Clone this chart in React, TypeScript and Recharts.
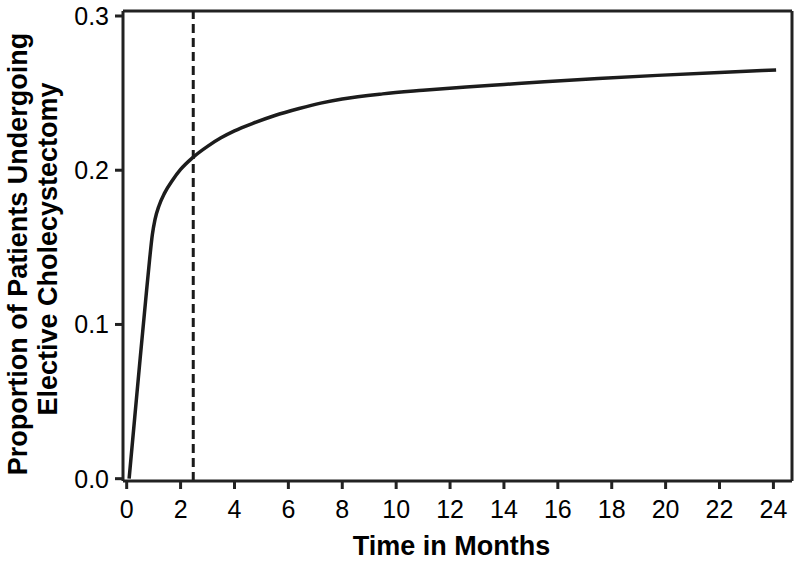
import React from 'react';
import { LineChart, Line, XAxis, YAxis, ReferenceLine } from 'recharts';

const months = [0.09, 0.3, 0.5, 0.7, 0.85, 0.95, 1.05, 1.2, 1.4, 1.7, 2.0, 2.47, 3.0, 3.5, 4.0, 4.7, 5.5, 6.4, 7.2, 8.0, 9.5, 11, 12.6, 14, 15.5, 17.5, 19.7, 22, 24.1];
const proportion = [0, 0.04, 0.078, 0.115, 0.142, 0.158, 0.168, 0.177, 0.185, 0.1935, 0.2005, 0.2085, 0.2155, 0.221, 0.2255, 0.2305, 0.2355, 0.24, 0.2435, 0.2462, 0.2495, 0.2518, 0.254, 0.2556, 0.2573, 0.2594, 0.2615, 0.2634, 0.265];
const xTicks = [0, 2, 4, 6, 8, 10, 12, 14, 16, 18, 20, 22, 24];
const yTicks = [0, 0.1, 0.2, 0.3];
const cutoffMonth = 2.47;
const xTitle = 'Time in Months';
const yTitleLines = ['Proportion of Patients Undergoing', 'Elective Cholecystectomy'];

const data = months.map((m, i) => ({ month: m, value: proportion[i] }));

const FONT = '"Liberation Sans", Arial, Helvetica, sans-serif';
const AXIS = '#222';
const X_DOMAIN: [number, number] = [-0.137, 24.69];
const Y_DOMAIN: [number, number] = [-0.0015, 0.30324];

const XTitle = (props: any) => {
  const vb = props.viewBox || {};
  return (
    <text x={vb.x + vb.width / 2 - 6} y={vb.y + vb.height - 8} textAnchor="middle"
      fontFamily={FONT} fontWeight="bold" fontSize={27} fill="#000">{xTitle}</text>
  );
};

const YTitle = (props: any) => {
  const vb = props.viewBox || {};
  const cy = vb.y + vb.height / 2;
  const x1 = vb.x + 27;
  const x2 = vb.x + 57;
  return (
    <g>
      <text x={x1} y={cy + 8} textAnchor="middle" transform={`rotate(-90, ${x1}, ${cy + 8})`}
        fontFamily={FONT} fontWeight="bold" fontSize={27} fill="#000">{yTitleLines[0]}</text>
      <text x={x2} y={cy + 3} textAnchor="middle" transform={`rotate(-90, ${x2}, ${cy + 3})`}
        fontFamily={FONT} fontWeight="bold" fontSize={27} fill="#000">{yTitleLines[1]}</text>
    </g>
  );
};

export default function App() {
  return (
    <div style={{ position: 'absolute', left: 0, top: 0, width: 800, height: 563, background: '#fff' }}>
      <LineChart width={800} height={563} data={data} margin={{ top: 11, right: 8, bottom: 0, left: 0 }}>
        <XAxis dataKey="month" type="number" domain={X_DOMAIN} ticks={xTicks} allowDataOverflow
          height={82} tickSize={8} tickMargin={11}
          axisLine={{ stroke: AXIS, strokeWidth: 3 }} tickLine={{ stroke: AXIS, strokeWidth: 3 }}
          tick={{ fontFamily: FONT, fontSize: 25, fill: '#000' }}
          label={<XTitle />} />
        <YAxis type="number" domain={Y_DOMAIN} ticks={yTicks} allowDataOverflow
          width={123} tickSize={8} tickMargin={6}
          tickFormatter={(v: number) => v.toFixed(1)}
          axisLine={{ stroke: AXIS, strokeWidth: 3 }} tickLine={{ stroke: AXIS, strokeWidth: 3 }}
          tick={{ fontFamily: FONT, fontSize: 25, fill: '#000' }}
          label={<YTitle />} />
        <ReferenceLine y={Y_DOMAIN[1]} stroke={AXIS} strokeWidth={3} />
        <ReferenceLine x={X_DOMAIN[1]} stroke={AXIS} strokeWidth={3} />
        <ReferenceLine x={cutoffMonth} stroke="#1a1a1a" strokeWidth={3} strokeDasharray="9 5" />
        <Line type="monotone" dataKey="value" stroke="#1c1c1c" strokeWidth={3.5} dot={false}
          isAnimationActive={false} />
      </LineChart>
    </div>
  );
}
